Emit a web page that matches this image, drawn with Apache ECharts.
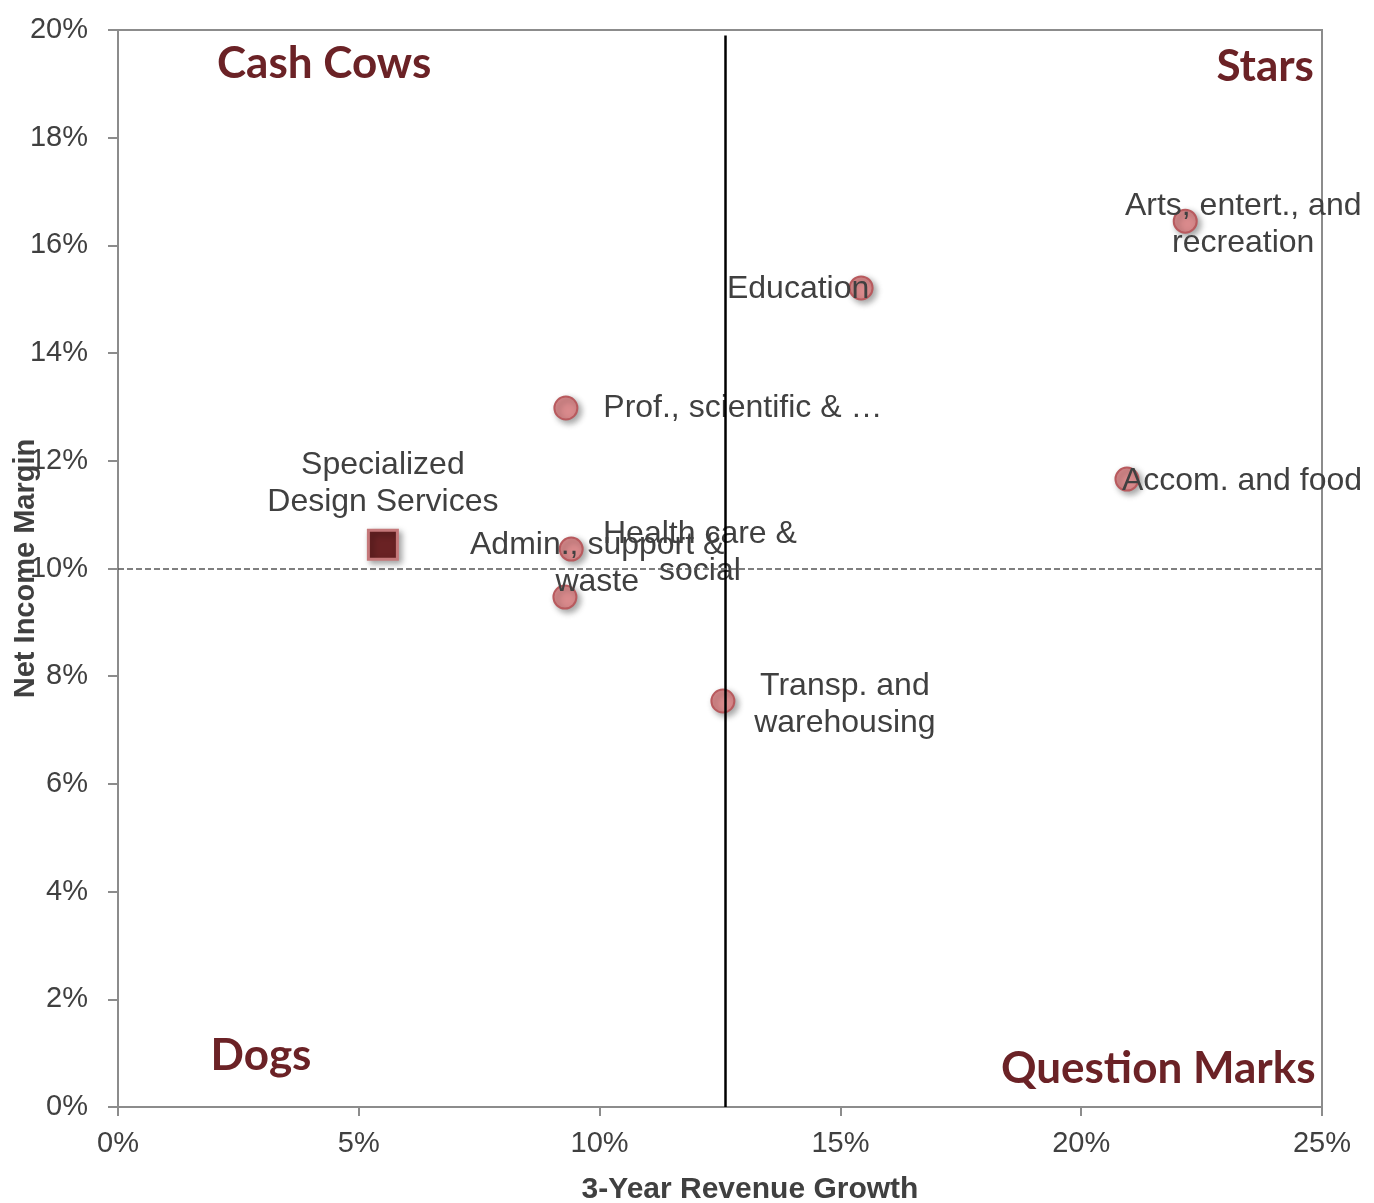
<!DOCTYPE html>
<html>
<head>
<meta charset="utf-8">
<script src="https://cdn.jsdelivr.net/npm/echarts@6/dist/echarts.min.js"></script>
<style>html,body{margin:0;padding:0;background:#fff}#c{width:1374px;height:1203px}</style>
</head>
<body>
<div id="c"></div>
<script>
// Data (percent values)
const industries = ['Education','Arts, entert., and\nrecreation','Prof., scientific & \u2026','Accom. and food','Admin., support &\nwaste','Health care &\nsocial','Transp. and\nwarehousing'];
const revenueGrowth = [15.43, 22.16, 9.30, 20.95, 9.41, 9.28, 12.56];
const netMargin = [15.21, 16.45, 12.98, 11.66, 10.36, 9.47, 7.54];
const labelOffsets = [[-63,1],[58,4],[177,0],[115,2],[26,15],[135,-44],[122,4]];

const focusName = 'Specialized\nDesign Services';
const focusGrowth = 5.50;
const focusMargin = 10.44;

const quadrantNames = ['Cash Cows','Stars','Dogs','Question Marks'];
const quadrantX = [4.28, 23.82, 2.97, 21.6];
const quadrantY = [19.37, 19.31, 0.95, 0.71];

const avgGrowth = 12.6;
const avgMargin = 10;
const xTicks = [0,5,10,15,20,25];
const yTicks = [0,2,4,6,8,10,12,14,16,18,20];

const chart = echarts.init(document.getElementById('c'), null, {renderer:'canvas'});
const txt = '#404040';
const axisCol = '#8c8c8c';

chart.setOption({
  animation:false,
  backgroundColor:'#fff',
  grid:{left:118,right:52,top:30,bottom:96,show:true,borderColor:axisCol,borderWidth:2,containLabel:false,outerBoundsMode:'none'},
  xAxis:{
    type:'value',min:0,max:25,interval:5,
    name:'3-Year Revenue Growth',nameLocation:'middle',nameGap:68,nameMoveOverlap:false,
    nameTextStyle:{fontFamily:'Liberation Sans',fontWeight:'bold',fontSize:30,color:txt,padding:[0,0,0,60]},
    axisLine:{lineStyle:{color:axisCol,width:2}},
    axisTick:{show:true,length:9,lineStyle:{color:axisCol,width:2}},
    axisLabel:{formatter:v=>v+'%',fontFamily:'Liberation Sans',fontSize:29,color:txt,margin:22},
    splitLine:{show:false}
  },
  yAxis:{
    type:'value',min:0,max:20,interval:2,
    name:'Net Income Margin',nameLocation:'middle',nameGap:78,nameMoveOverlap:false,
    nameTextStyle:{fontFamily:'Liberation Sans',fontWeight:'bold',fontSize:29,color:txt},
    axisLine:{lineStyle:{color:axisCol,width:2}},
    axisTick:{show:true,length:10,lineStyle:{color:axisCol,width:2}},
    axisLabel:{formatter:v=>v+'%',fontFamily:'Liberation Sans',fontSize:29,color:txt,margin:30},
    splitLine:{show:false}
  },
  series:[
    {
      type:'scatter',
      symbol:'circle',symbolSize:23,
      itemStyle:{opacity:1,color:'#d98a8c',borderColor:'#b85a5e',borderWidth:2,shadowBlur:6,shadowOffsetX:3,shadowOffsetY:3,shadowColor:'rgba(0,0,0,0.35)'},
      data:industries.map((n,i)=>({
        value:[revenueGrowth[i],netMargin[i]],name:n,
        label:{show:true,position:'inside',offset:labelOffsets[i],formatter:'{b}',opacity:1,
          fontFamily:'Liberation Sans',fontSize:32,lineHeight:37,color:txt,align:'center',verticalAlign:'middle'}
      })),
      markLine:{
        silent:true,symbol:['none','none'],label:{show:false},
        data:[
          [{coord:[avgGrowth,0]},{coord:[avgGrowth,19.9]}],
        ],
        lineStyle:{color:'#000',type:'solid',width:2.5,opacity:1}
      },
      z:3
    },
    {
      type:'scatter',
      symbol:'rect',symbolSize:29,
      itemStyle:{opacity:1,color:'#6a2224',borderColor:'#c5787a',borderWidth:3,shadowBlur:6,shadowOffsetX:3,shadowOffsetY:3,shadowColor:'rgba(0,0,0,0.35)'},
      data:[{value:[focusGrowth,focusMargin],name:focusName,
        label:{show:true,position:'inside',offset:[0,-61],formatter:'{b}',opacity:1,
          fontFamily:'Liberation Sans',fontSize:32,lineHeight:37,color:txt,align:'center',verticalAlign:'middle'}}],
      markLine:{
        silent:true,symbol:['none','none'],label:{show:false},
        data:[{yAxis:avgMargin}],
        lineStyle:{color:'#555',type:[6,3],width:1.5,opacity:1}
      },
      z:4
    },
    {
      type:'scatter',symbolSize:0,silent:true,
      itemStyle:{opacity:1},
      data:quadrantNames.map((n,i)=>({value:[quadrantX[i],quadrantY[i]],name:n})),
      label:{show:true,position:'inside',formatter:'{b}',opacity:1,fontFamily:'Lato',fontWeight:'bold',fontSize:44,color:'#6b2226'},
      z:2
    }
  ]
});
</script>
</body>
</html>
